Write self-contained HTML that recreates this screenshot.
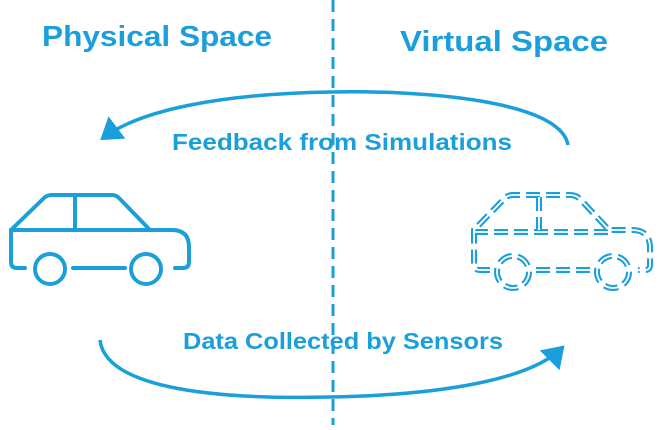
<!DOCTYPE html>
<html><head><meta charset="utf-8"><style>
body{margin:0;background:#fff;width:663px;height:425px;overflow:hidden}
svg text{font-family:"Liberation Sans",sans-serif;font-weight:bold;fill:#1a9fdb}
</style></head><body>
<svg width="663" height="425" viewBox="0 0 663 425">
<defs><marker id="ah" markerWidth="8" markerHeight="8" refX="5" refY="4" orient="auto" markerUnits="strokeWidth"><path d="M0,0 L6,4 L0,8 Z" fill="#1a9fdb"/></marker>
<g id="vc" fill="none">
<path fill="none" d="M490,270 L480,270 Q474,270 474,264 L474,230 L505,198 Q508,195 513,195 L570,195 Q576,195 580,199 L609,230 L632,230 Q650,230 650,248 L650,265 Q650,270 645,270 L638,270"/>
<line x1="474" y1="232" x2="609" y2="232"/>
<line x1="539" y1="197" x2="539" y2="230"/>
<line x1="536" y1="270" x2="590" y2="270"/>
<circle fill="none" cx="513" cy="272" r="16"/>
<circle fill="none" cx="613" cy="272" r="16"/>
</g></defs>
<text x="42" y="46" font-size="29" textLength="230" lengthAdjust="spacingAndGlyphs">Physical Space</text>
<text x="400" y="51" font-size="29" textLength="208" lengthAdjust="spacingAndGlyphs">Virtual Space</text>
<line x1="333" y1="0" x2="333" y2="425" stroke="#1a9fdb" stroke-width="3" stroke-dasharray="12,7"/>
<path d="M568,145 C560,100 420,90 330,92 C220,94 140,110 103,138" fill="none" stroke="#1a9fdb" stroke-width="3.5" marker-end="url(#ah)"/>
<path d="M100,340 C105,385 200,400 330,397 C440,395 530,380 562,348" fill="none" stroke="#1a9fdb" stroke-width="3.5" marker-end="url(#ah)"/>
<text x="172" y="150" font-size="23" textLength="340" lengthAdjust="spacingAndGlyphs">Feedback from Simulations</text>
<text x="183" y="349" font-size="23" textLength="320" lengthAdjust="spacingAndGlyphs">Data Collected by Sensors</text>
<g fill="none" stroke="#1a9fdb" stroke-width="4" stroke-linecap="round" stroke-linejoin="round">
<path d="M25,268 L17,268 Q11,268 11,262 L11,230 L45,197 Q48,195 52,195 L112,195 Q116,195 119,198 L150,230 L172,230 Q189,230 189,247 L189,262 Q189,268 183,268 L175,268"/>
<line x1="11" y1="230" x2="150" y2="230"/>
<line x1="75" y1="195" x2="75" y2="230"/>
<line x1="73" y1="268" x2="125" y2="268"/>
<circle cx="50" cy="269" r="15"/>
<circle cx="146" cy="269" r="15"/>
</g>
<use href="#vc" fill="none" stroke="#1a9fdb" stroke-width="6" stroke-dasharray="14,6"/>
<use href="#vc" fill="none" stroke="#fff" stroke-width="1.8"/>
</svg>
</body></html>
